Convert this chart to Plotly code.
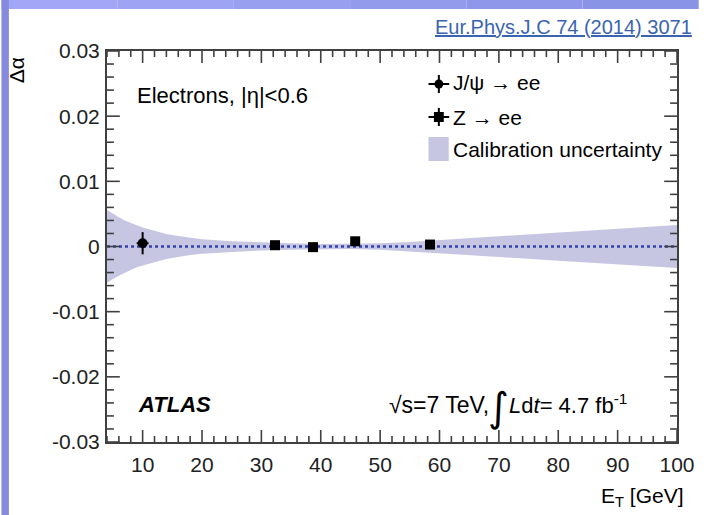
import plotly.graph_objects as go

# ---- data -----------------------------------------------------------------
# J/psi -> ee measurement
jpsi_et = [10.0]
jpsi_dalpha = [0.0005]
jpsi_err_y = [0.0017]
jpsi_err_x = [1.0]

# Z -> ee measurements
z_et = [32.3, 38.7, 45.8, 58.4]
z_dalpha = [0.0002, -0.0001, 0.0008, 0.0003]
z_err_y = [0.0003, 0.0003, 0.0003, 0.0003]

# calibration uncertainty band (half width, symmetric about zero)
band_et = [4, 5, 6, 7, 8, 9, 10, 12, 14, 16, 18, 20, 25, 30, 35, 40, 45,
           50, 55, 60, 70, 80, 90, 100]
band_halfwidth = [0.0056, 0.0050, 0.0045, 0.0040, 0.0036, 0.0032, 0.0029,
                  0.0024, 0.0019, 0.0016, 0.0013, 0.0011, 0.0008, 0.0006,
                  0.0005, 0.0004, 0.0004, 0.0005, 0.0007, 0.0010, 0.0016,
                  0.0022, 0.0028, 0.0033]

y_tickvals = [-0.03, -0.02, -0.01, 0.0, 0.01, 0.02, 0.03]
y_ticktext = ["-0.03", "-0.02", "-0.01", "0", "0.01", "0.02", "0.03"]
x_tickvals = [10, 20, 30, 40, 50, 60, 70, 80, 90, 100]

# ---- geometry -------------------------------------------------------------
W, H = 707, 515
ML, MR, MT, MB = 107, 22, 51, 73
PW, PH = W - ML - MR, H - MT - MB


def px(x):
    return (x - ML) / PW


def py(y):
    return (H - MB - y) / PH


FONT = "Liberation Sans, Arial, Helvetica, sans-serif"
AXIS_COL = "#404040"
BAND_COL = "#c6c6e2"
DASH_COL = "#3343a8"

fig = go.Figure()

# uncertainty band
fig.add_trace(go.Scatter(
    x=band_et + band_et[::-1],
    y=[h for h in band_halfwidth] + [-h for h in band_halfwidth[::-1]],
    fill="toself", fillcolor=BAND_COL, line=dict(width=0),
    mode="lines", hoverinfo="skip", showlegend=False,
))

# zero reference line
fig.add_trace(go.Scatter(
    x=[4, 100], y=[0, 0], mode="lines",
    line=dict(color=DASH_COL, width=2.5, dash="3px,3px"),
    hoverinfo="skip", showlegend=False,
))

# J/psi point
fig.add_trace(go.Scatter(
    x=jpsi_et, y=jpsi_dalpha, mode="markers",
    marker=dict(symbol="circle", size=10, color="black"),
    error_y=dict(type="data", array=jpsi_err_y, color="black", thickness=2, width=0),
    error_x=dict(type="data", array=jpsi_err_x, color="black", thickness=2, width=0),
    showlegend=False,
))

# Z points
fig.add_trace(go.Scatter(
    x=z_et, y=z_dalpha, mode="markers",
    marker=dict(symbol="square", size=10, color="black"),
    error_y=dict(type="data", array=z_err_y, color="black", thickness=2, width=0),
    showlegend=False,
))

shapes = []
annotations = []

# ---- tick marks on all four sides (ROOT style, pointing inwards) ----------
x_minor = [v for v in range(4, 101, 2) if v % 10]
y_minor = [round(-0.03 + 0.002 * i, 3) for i in range(31) if i % 5]


def xtick(v, length):
    for base, sgn in ((0.0, 1), (1.0, -1)):
        shapes.append(dict(type="line", xref="x", yref="paper",
                           x0=v, x1=v, y0=base, y1=base + sgn * length / PH,
                           line=dict(color=AXIS_COL, width=1.6)))


def ytick(v, length):
    for base, sgn in ((0.0, 1), (1.0, -1)):
        shapes.append(dict(type="line", xref="paper", yref="y",
                           x0=base, x1=base + sgn * length / PW, y0=v, y1=v,
                           line=dict(color=AXIS_COL, width=1.6)))


for v in x_tickvals:
    xtick(v, 12)
for v in x_minor:
    xtick(v, 6)
for v in y_tickvals:
    ytick(v, 13)
for v in y_minor:
    ytick(v, 7)

# page frame: blue strips on the left and top edges
top_cols = ["#a3a6f6", "#9ea3f3", "#989ff0", "#939bed", "#8e97ea", "#8a94e7"]
n = len(top_cols)
for i, c in enumerate(top_cols):
    shapes.append(dict(type="rect", xref="paper", yref="paper", layer="above",
                       x0=px(W * i / n), x1=px(W * (i + 1) / n),
                       y0=py(9), y1=py(0), fillcolor=c, line=dict(width=0)))
shapes.append(dict(type="rect", xref="paper", yref="paper", layer="above",
                   x0=px(0), x1=px(7.5), y0=py(H), y1=py(0),
                   fillcolor="#858ade", line=dict(width=0)))

# legend markers
leg_x = 443.5
# J/psi: circle with error cross
shapes.append(dict(type="line", xref="paper", yref="paper",
                   x0=px(433), x1=px(454), y0=py(84), y1=py(84),
                   line=dict(color="black", width=2)))
shapes.append(dict(type="line", xref="paper", yref="paper",
                   x0=px(leg_x), x1=px(leg_x), y0=py(75), y1=py(93),
                   line=dict(color="black", width=2)))
shapes.append(dict(type="circle", xref="paper", yref="paper",
                   x0=px(leg_x - 4.5), x1=px(leg_x + 4.5), y0=py(88.5), y1=py(79.5),
                   fillcolor="black", line=dict(width=0)))
# Z: square with error cross
shapes.append(dict(type="line", xref="paper", yref="paper",
                   x0=px(433), x1=px(454), y0=py(117), y1=py(117),
                   line=dict(color="black", width=2)))
shapes.append(dict(type="line", xref="paper", yref="paper",
                   x0=px(leg_x), x1=px(leg_x), y0=py(108), y1=py(126),
                   line=dict(color="black", width=2)))
shapes.append(dict(type="rect", xref="paper", yref="paper",
                   x0=px(leg_x - 5), x1=px(leg_x + 5), y0=py(122), y1=py(112),
                   fillcolor="black", line=dict(width=0)))
# band swatch
shapes.append(dict(type="rect", xref="paper", yref="paper",
                   x0=px(433), x1=px(453.5), y0=py(161), y1=py(137),
                   fillcolor=BAND_COL, line=dict(width=0)))


def label(x, y, text, size=21, xanchor="left", color="black", family=FONT):
    annotations.append(dict(x=px(x), y=py(y), xref="paper", yref="paper",
                            text=text, showarrow=False, xanchor=xanchor,
                            yanchor="middle",
                            font=dict(family=family, size=size, color=color)))


label(456, 83, "J/ψ → ee")
label(456, 117, "Z → ee")
label(456, 149, "Calibration uncertainty")
label(135, 95, "Electrons, |η|<0.6", size=22)
label(136, 404, "<b><i>ATLAS</i></b>", size=22)
label(391, 405, "√s=7 TeV,", size=23)
label(504, 407, "∫", size=40, xanchor="center", family="DejaVu Sans")
label(513, 404, "<i>L</i>d<i>t</i>= 4.7 fb<sup>-1</sup>", size=22)
label(694, 497, "E<sub>T</sub> [GeV]", xanchor="right", size=21)
annotations.append(dict(x=px(16), y=py(55), xref="paper", yref="paper",
                        text="Δα", showarrow=False, textangle=-90,
                        xanchor="center", yanchor="top",
                        font=dict(family=FONT, size=21, color="black")))
label(702, 27, "<u>Eur.Phys.J.C 74 (2014) 3071</u>", size=20,
      xanchor="right", color="#3a64b0")

axis_common = dict(
    ticks="", showline=True, linecolor=AXIS_COL, linewidth=2, mirror=True,
    showgrid=False, zeroline=False,
    tickfont=dict(family=FONT, size=21, color="#222"),
)

fig.update_layout(
    width=W, height=H,
    margin=dict(l=ML, r=MR, t=MT, b=MB, pad=0),
    paper_bgcolor="white", plot_bgcolor="white",
    showlegend=False,
    shapes=shapes, annotations=annotations,
    font=dict(family=FONT, size=21, color="#222"),
    xaxis=dict(range=[4, 100], tickmode="array", tickvals=x_tickvals,
               ticklabelstandoff=3, **axis_common),
    yaxis=dict(range=[-0.03, 0.03], tickmode="array", tickvals=y_tickvals,
               ticktext=y_ticktext, ticklabelstandoff=1, **axis_common),
)

fig.write_html("out.html")
